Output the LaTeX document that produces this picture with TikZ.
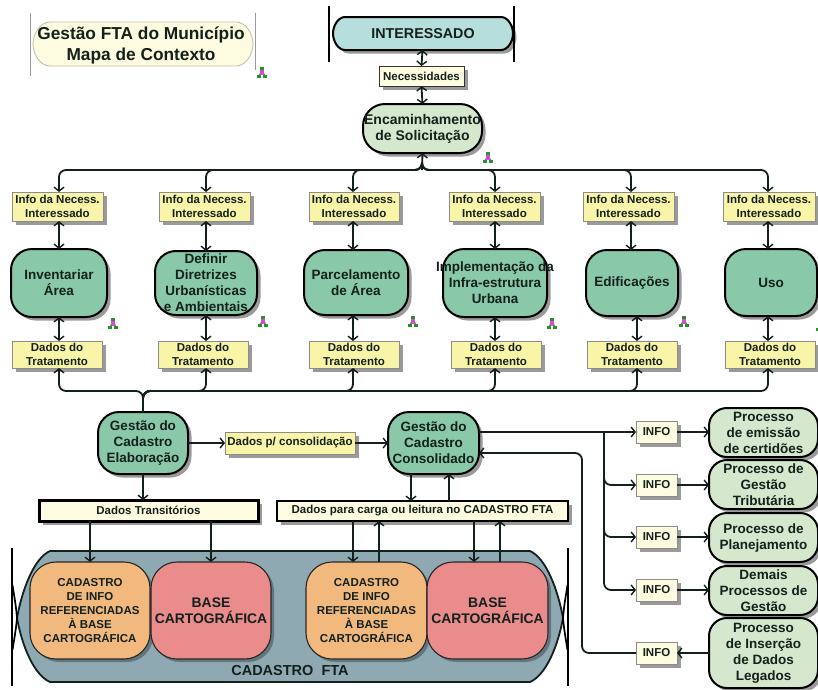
\documentclass[tikz,border=0pt]{standalone}
\usepackage{fontspec}
\setmainfont{Liberation Sans}
\usetikzlibrary{arrows.meta,shadows,calc}
\definecolor{ink}{HTML}{14201C}
\definecolor{teal}{HTML}{89C9AA}
\definecolor{pale}{HTML}{D5E8CD}
\definecolor{aqua}{HTML}{B5DEDC}
\definecolor{yel}{HTML}{F8F4A8}
\definecolor{cream}{HTML}{FEFCE0}
\definecolor{slate}{HTML}{8FA9B3}
\definecolor{orng}{HTML}{F2B97E}
\definecolor{pinkb}{HTML}{EB8C8C}
\definecolor{shd}{HTML}{9A9A9A}
\tikzset{
  x=1pt,y=-1pt,
  >={Straight Barb[length=4pt,width=10pt,line width=1.4pt]},
  shad/.style={drop shadow={shadow xshift=3.5pt,shadow yshift=-3.5pt,fill=shd,opacity=1}},
  base/.style={inner sep=0pt,outer sep=0pt,align=center,text=ink},
  label/.style={base,shad,draw=black!45,line width=.8pt,fill=yel,font=\fontsize{11.5}{14}\selectfont\bfseries},
  whitelabel/.style={label,fill=cream},
  barlabel/.style={label,fill=cream,draw=black,line width=3pt},
  proc/.style={base,shad,draw=black,line width=2pt,fill=teal,rounded corners=21pt,font=\fontsize{13.5}{16}\selectfont\bfseries},
  side/.style={proc,fill=pale,rounded corners=18pt},
  store/.style={base,draw=black!85,line width=1.1pt,fill=orng,rounded corners=26pt,font=\fontsize{11.5}{14}\selectfont\bfseries,
     drop shadow={shadow xshift=3pt,shadow yshift=-3pt,fill=black!30!slate,opacity=1}},
  basestore/.style={store,fill=pinkb,font=\fontsize{13.9}{16}\selectfont\bfseries},
  caption/.style={base,font=\fontsize{14.3}{17}\selectfont\bfseries},
  conn/.style={draw=ink,line width=1.8pt},
  fork/.style={conn,rounded corners=7pt},
  bar/.style={draw=black,line width=1.7pt},
  thinbar/.style={draw=black!40,line width=.8pt},
  icon/.pic={
    \draw[green!45!black!80,line width=.6pt] (0,-3) -- (-3.5,3) (0,-3) -- (3.5,3);
    \fill[green!50!black!85] (-1.9,-6) rectangle (1.9,-2.8);
    \fill[green!50!black!85] (-5.4,2) rectangle (-1,5.4);
    \fill[green!50!black!85] (1,2) rectangle (5.4,5.4);
    \fill[violet!45!magenta!70] (-2,-2.6) rectangle (2,1.8);
  }
}
\newcommand{\bx}[7]{%
  \pgfmathsetmacro{\bxw}{#5-#3}\pgfmathsetmacro{\bxh}{#6-#4}%
  \node[#2,minimum width=\bxw pt,minimum height=\bxh pt] (#1) at ({(#3+#5)/2},{(#4+#6)/2}) {#7};}
\begin{document}
\begin{tikzpicture}
\useasboundingbox (0,0) rectangle (818,689);
\fill[white] (0,0) rectangle (818,689);
\foreach \n/\v in {a/59,b/206,c/353,d/495,e/631,f/768,g/637,h/143,
                   i/90,j/211,k/379,l/474,m/500,n/411,o/449,p/604,q/582}
  {\coordinate (x\n) at (\v,0);}
\coordinate (forkT) at (422,170);
\coordinate (forkB) at (143,391);
\coordinate (forkR) at (604,432);
\coordinate (backR) at (582,453);
% title
\draw[thinbar] (30,13) -- (30,76) (255,13) -- (255,70);
\draw[draw=black!25!yellow!30!gray!70,line width=.8pt,fill=cream]
  (50,22) -- (236,22) .. controls (246,22) and (253,34) .. (253,44)
  .. controls (253,54) and (246,66) .. (236,66) -- (50,66)
  .. controls (40,66) and (33,54) .. (33,44) .. controls (33,34) and (40,22) .. (50,22) -- cycle;
\node[base,font=\fontsize{17.3}{20.5}\selectfont\bfseries] (title) at (141,45.5) {Gestão FTA do Município\\Mapa de Contexto};
% interessado
\draw[line width=2pt,draw=black,fill=aqua,drop shadow={shadow xshift=3.5pt,shadow yshift=-3.5pt,fill=shd,opacity=1}]
  (345,17) -- (501,17) .. controls (508,17) and (513,26) .. (513,33.5)
  .. controls (513,41) and (508,50) .. (501,50) -- (345,50)
  .. controls (338,50) and (333,41) .. (333,33.5) .. controls (333,26) and (338,17) .. (345,17) -- cycle;
\draw[bar] (329,6) -- (329,62) (514,6) -- (514,62);
\bx{int}{caption}{333}{17}{513}{50}{INTERESSADO}
\bx{nec}{whitelabel,draw=black!80}{379}{66}{464}{86}{Necessidades}
\bx{enc}{side,rounded corners=22pt,font=\fontsize{14}{16}\selectfont\bfseries}{363}{104}{482}{153}{Encaminhamento\\de Solicitação}
% info boxes
\bx{ia}{label}{12}{192}{103}{221}{Info da Necess.\\Interessado}
\bx{ib}{label}{159}{192}{250}{221}{Info da Necess.\\Interessado}
\bx{ic}{label}{309}{192}{399}{221}{Info da Necess.\\Interessado}
\bx{id}{label}{449}{192}{540}{221}{Info da Necess.\\Interessado}
\bx{ie}{label}{583}{192}{674}{221}{Info da Necess.\\Interessado}
\bx{if}{label}{723}{192}{815}{221}{Info da Necess.\\Interessado}
% processes
\bx{pa}{proc}{11}{249}{107}{317}{Inventariar\\Área}
\bx{pb}{proc}{155}{251}{257}{315}{Definir\\Diretrizes\\Urbanísticas\\e Ambientais}
\bx{pc}{proc}{304}{250}{408}{315}{Parcelamento\\de Área}
\bx{pd}{proc}{443}{249}{547}{317}{}
\node[base,font=\fontsize{13.5}{16}\selectfont\bfseries] (pdt) at (495,283) {Implementação da\\Infra-estrutura\\Urbana};
\bx{pe}{proc}{586}{250}{678}{316}{Edificações}
\bx{pf}{proc}{725}{249}{817}{316}{Uso}
% dados do tratamento
\bx{da}{label}{12}{341}{102}{368}{Dados do\\Tratamento}
\bx{db}{label}{158}{341}{248}{368}{Dados do\\Tratamento}
\bx{dc}{label}{309}{341}{399}{368}{Dados do\\Tratamento}
\bx{dd}{label}{451}{341}{541}{368}{Dados do\\Tratamento}
\bx{de}{label}{587}{341}{677}{368}{Dados do\\Tratamento}
\bx{df}{label}{725}{341}{815}{368}{Dados do\\Tratamento}
% management
\bx{ge}{proc}{98}{412}{188}{474}{Gestão do\\Cadastro\\Elaboração}
\bx{cons}{label}{225}{432}{355}{454}{Dados p/ consolidação}
\bx{gc}{proc}{388}{412}{479}{474}{Gestão do\\Cadastro\\Consolidado}
\bx{dt}{barlabel}{39}{500}{258}{521}{Dados Transitórios}
\bx{dl}{barlabel,line width=2pt}{277}{501}{568}{521}{Dados para carga ou leitura no CADASTRO FTA}
% cadastro
\draw[line width=1.8pt,draw=ink,fill=slate]
  (50,551) -- (530,551) .. controls (546,558) and (558,590) .. (563,618)
  .. controls (558,646) and (546,675) .. (530,682) -- (50,682)
  .. controls (34,675) and (22,646) .. (17,618) .. controls (22,590) and (34,558) .. (50,551) -- cycle;
\draw[bar] (17,618) .. controls (16,605) and (14,595) .. (12.5,585)
           (17,618) .. controls (16,630) and (14,640) .. (12.5,650)
           (563,618) .. controls (564,605) and (566,595) .. (567.5,585)
           (563,618) .. controls (564,630) and (566,640) .. (567.5,650);
\draw[bar] (12,548) -- (12,686) (568,548) -- (568,686);
\bx{oa}{store}{30}{562}{150}{659}{CADASTRO\\DE INFO\\REFERENCIADAS\\À BASE\\CARTOGRÁFICA}
\bx{ba}{basestore}{151}{562}{271}{659}{BASE\\CARTOGRÁFICA}
\bx{ob}{store}{306}{562}{427}{659}{CADASTRO\\DE INFO\\REFERENCIADAS\\À BASE\\CARTOGRÁFICA}
\bx{bb}{basestore}{427}{562}{548}{659}{BASE\\CARTOGRÁFICA}
\node[caption,font=\fontsize{14.5}{17}\selectfont\bfseries] (cft) at (290,670) {CADASTRO\ \ FTA};
% right column
\bx{ra}{side}{709}{408}{818}{457}{Processo\\de emissão\\de certidões}
\bx{rb}{side}{709}{460}{818}{509}{Processo de\\Gestão\\Tributária}
\bx{rc}{side}{709}{513}{818}{562}{Processo de\\Planejamento}
\bx{rd}{side}{709}{566}{818}{615}{Demais\\Processos de\\Gestão}
\bx{re}{side}{709}{618}{818}{688}{Processo\\de Inserção\\de Dados\\Legados}
\bx{na}{whitelabel}{636}{421}{677}{443}{INFO}
\bx{nb}{whitelabel}{636}{474}{677}{496}{INFO}
\bx{nc}{whitelabel}{636}{526}{677}{548}{INFO}
\bx{nd}{whitelabel}{636}{579}{677}{601}{INFO}
\bx{ne}{whitelabel}{636}{642}{677}{664}{INFO}
% top connectors
\draw[conn,<->] (int.south) ++(-.5,0) -- (nec.north);
\draw[conn,<->] (nec.south) -- (enc.north);
\draw[conn,<-] (enc.south) -- (forkT);
\foreach \t/\c in {ia/a,ib/b,ic/c,id/d,ie/e,if/f}
  {\draw[fork,->] (forkT) ++(0,-8) -- (forkT) -| (\t.north -| x\c);}
\draw[conn,<->] (ia.south -| xa) -- (pa.north -| xa);
\draw[conn,<->] (ib.south -| xb) -- (pb.north -| xb);
\draw[conn,<->] (ic.south -| xc) -- (pc.north -| xc);
\draw[conn,<->] (id.south -| xd) -- (pd.north -| xd);
\draw[conn,<->] (ie.south -| xe) -- (pe.north -| xe);
\draw[conn,<->] (if.south -| xf) -- (pf.north -| xf);
\draw[conn,<->] (pa.south -| xa) -- (da.north -| xa);
\draw[conn,<->] (pb.south -| xb) -- (db.north -| xb);
\draw[conn,<->] (pc.south -| xc) -- (dc.north -| xc);
\draw[conn,<->] (pd.south -| xd) -- (dd.north -| xd);
\draw[conn,<->] (pe.south -| xg) -- (de.north -| xg);
\draw[conn,<->] (pf.south -| xf) -- (df.north -| xf);
\foreach \t/\c in {da/a,db/b,dc/c,dd/d,de/g,df/f}
  {\draw[fork,->] (ge.north) -- (forkB) -| (\t.south -| x\c);}
% middle connectors
\draw[conn,->] (ge.east |- cons.west) -- (cons.west);
\draw[conn,->] (cons.east) -- (gc.west |- cons.east);
\draw[conn,->] (ge.south) -- (dt.north -| xh);
\draw[conn,->] (gc.south -| xn) -- (dl.north -| xn);
\draw[conn,->] (dl.north -| xo) -- (gc.south -| xo);
\draw[conn,->] (dt.south -| xi) -- (oa.north -| xi);
\draw[conn,->] (dt.south -| xj) -- (ba.north -| xj);
\draw[conn,->] (dl.south -| xc) -- (ob.north -| xc);
\draw[conn,->] (ob.north -| xk) -- (dl.south -| xk);
\draw[conn,->] (dl.south -| xl) -- (bb.north -| xl);
\draw[conn,->] (bb.north -| xm) -- (dl.south -| xm);
% right connectors
\draw[conn,->] (gc.east |- na.west) -- (na.west);
\draw[fork,->] (forkR) |- (nb.west);
\draw[fork,->] (forkR) |- (nc.west);
\draw[fork,->] (forkR) |- (nd.west);
\draw[conn,->] (na.east) -- (ra.west |- na.east);
\draw[conn,->] (nb.east) -- (rb.west |- nb.east);
\draw[conn,->] (nc.east) -- (rc.west |- nc.east);
\draw[conn,->] (nd.east) -- (rd.west |- nd.east);
\draw[conn,->] (re.west |- ne.east) -- (ne.east);
\draw[fork,->] (ne.west) -| (backR) -- (gc.east |- backR);
% icons
\foreach \px/\py in {262/73,488/158,113/324,263/322,413/322,552/324,684/322,821/326}
  {\pic at (\px,\py) {icon};}
\end{tikzpicture}
\end{document}
